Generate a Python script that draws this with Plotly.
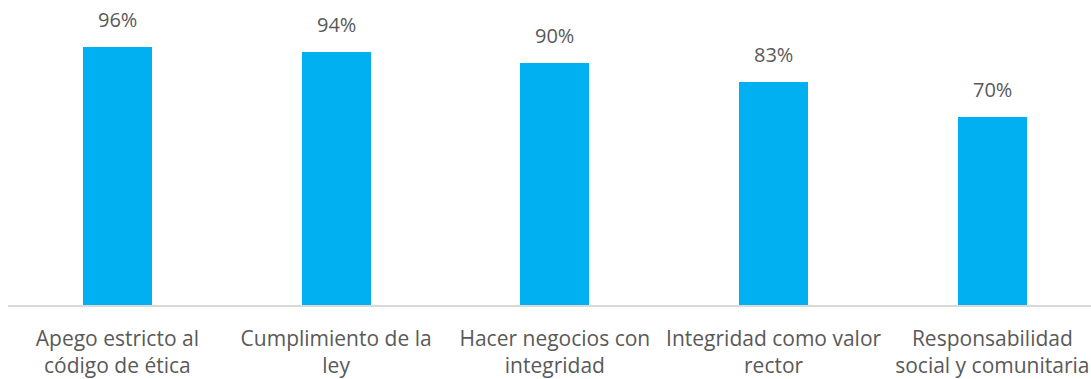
import plotly.graph_objects as go

categories = [
    "Apego estricto al<br>código de ética",
    "Cumplimiento de la<br>ley",
    "Hacer negocios con<br>integridad",
    "Integridad como valor<br>rector",
    "Responsabilidad<br>social y comunitaria",
]
values = [96, 94, 90, 83, 70]
value_labels = ["96%", "94%", "90%", "83%", "70%"]

BAR_COLOR = "#00B0F0"
TEXT_COLOR = "#595959"
FONT = "Open Sans"

x_pos = list(range(len(categories)))

fig = go.Figure(
    go.Bar(
        x=x_pos,
        y=values,
        width=0.315,
        marker=dict(color=BAR_COLOR, line=dict(width=0)),
        hoverinfo="skip",
    )
)

# value labels above each bar
for xi, v, lab in zip(x_pos, values, value_labels):
    fig.add_annotation(
        x=xi, y=v, text=lab, showarrow=False,
        yanchor="bottom", yshift=12,
        font=dict(family=FONT, size=20, color=TEXT_COLOR),
    )

fig.update_layout(
    width=1091,
    height=379,
    margin=dict(l=8, r=0, t=0, b=74),
    paper_bgcolor="white",
    plot_bgcolor="white",
    showlegend=False,
    bargap=0,
    xaxis=dict(
        range=[-0.5, 4.451],
        tickmode="array",
        tickvals=x_pos,
        ticktext=categories,
        showgrid=False,
        zeroline=False,
        showline=True,
        linecolor="#D9D9D9",
        linewidth=1.5,
        ticks="",
        ticklabelstandoff=14,
        tickfont=dict(family=FONT, size=21, color=TEXT_COLOR),
        fixedrange=True,
    ),
    yaxis=dict(
        range=[0, 113.4],
        visible=False,
        fixedrange=True,
    ),
)

fig.write_html("out.html")
